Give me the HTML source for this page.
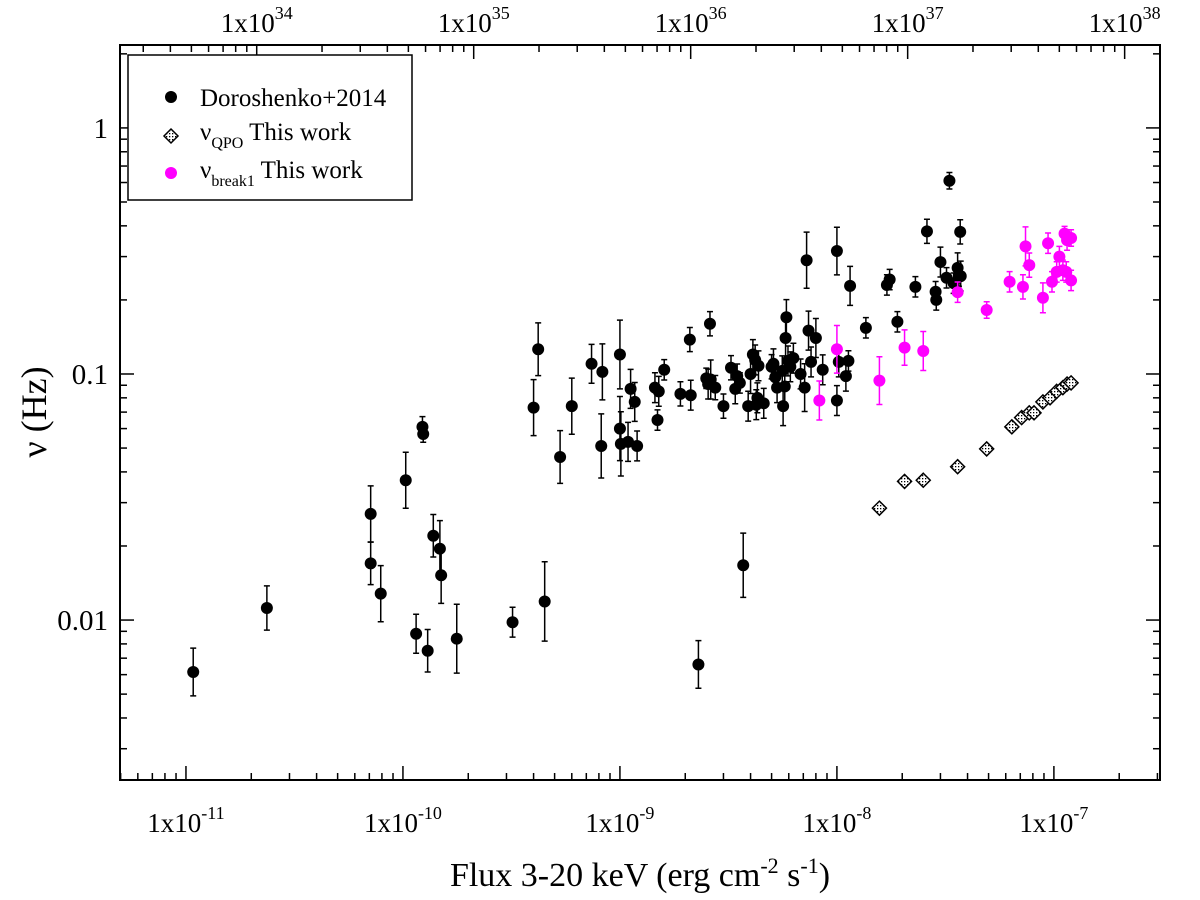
<!DOCTYPE html>
<html><head><meta charset="utf-8"><style>
body{margin:0;background:#fff;}
svg{display:block;font-family:"Liberation Serif",serif;}
</style></head><body>
<svg id="chart" width="1200" height="900" viewBox="0 0 1200 900" xmlns="http://www.w3.org/2000/svg">
<defs>
<pattern id="dots" width="3" height="3" patternUnits="userSpaceOnUse"><rect width="3" height="3" fill="#fff"/><rect x="1" y="1" width="1.3" height="1.3" fill="#000"/></pattern>
</defs>
<g id="grid-layer"></g>
<g id="marks"></g>
<rect x="120" y="45" width="1040" height="735" fill="none" stroke="#000" stroke-width="2"/>
<text transform="translate(46,412) rotate(-90)" text-anchor="middle" font-size="36">ν (Hz)</text>
<text x="640" y="886" text-anchor="middle" font-size="34">Flux 3-20 keV (erg cm<tspan dy="-13" font-size="22">-2</tspan><tspan dy="13"> s</tspan><tspan dy="-13" font-size="22">-1</tspan><tspan dy="13">)</tspan></text>
<g>
<rect x="128" y="55" width="284" height="145" fill="#fff" stroke="#000" stroke-width="1.5"/>
<circle cx="171" cy="97" r="6" fill="#000"/>
<text x="200" y="106" font-size="25">Doroshenko+2014</text>
<path d="M171,129 L178,136 L171,143 L164,136 Z" fill="url(#dots)" stroke="#000" stroke-width="1.5"/>
<text x="200" y="140" font-size="25">ν<tspan dy="8" font-size="16">QPO</tspan><tspan dy="-8"> This work</tspan></text>
<circle cx="171" cy="173" r="6" fill="#f0f"/>
<text x="200" y="178" font-size="25">ν<tspan dy="8" font-size="16">break1</tspan><tspan dy="-8"> This work</tspan></text>
</g>
</svg>
<script>
const blackFlux=[1.08e-11,2.36e-11,7.1e-11,7.1e-11,7.9e-11,1.03e-10,1.15e-10,1.23e-10,1.24e-10,1.3e-10,1.38e-10,1.48e-10,1.5e-10,1.77e-10,3.2e-10,4.0e-10,4.2e-10,4.5e-10,5.3e-10,6.0e-10,7.4e-10,8.2e-10,8.3e-10,1.0e-9,1.0e-9,1.01e-9,1.09e-9,1.12e-9,1.17e-9,1.2e-9,1.45e-9,1.49e-9,1.51e-9,1.6e-9,1.9e-9,2.1e-9,2.12e-9,2.3e-9,2.5e-9,2.55e-9,2.6e-9,2.62e-9,2.75e-9,3.0e-9,3.25e-9,3.4e-9,3.47e-9,3.57e-9,3.7e-9,3.9e-9,4.0e-9,4.1e-9,4.2e-9,4.25e-9,4.3e-9,4.35e-9,4.6e-9,5.0e-9,5.1e-9,5.2e-9,5.3e-9,5.6e-9,5.65e-9,5.75e-9,5.8e-9,5.85e-9,5.95e-9,6.1e-9,6.3e-9,6.8e-9,7.1e-9,7.25e-9,7.4e-9,7.6e-9,8.0e-9,8.6e-9,1.0e-8,1.0e-8,1.02e-8,1.1e-8,1.13e-8,1.15e-8,1.36e-8,1.7e-8,1.75e-8,1.9e-8,2.3e-8,2.6e-8,2.85e-8,2.87e-8,3.0e-8,3.2e-8,3.3e-8,3.45e-8,3.6e-8,3.65e-8,3.7e-8,3.72e-8];
const blackNu=[0.00615,0.0112,0.017,0.027,0.0128,0.037,0.0088,0.061,0.057,0.0075,0.022,0.0195,0.0152,0.0084,0.0098,0.073,0.126,0.0119,0.046,0.074,0.11,0.051,0.102,0.12,0.06,0.052,0.053,0.087,0.077,0.051,0.088,0.065,0.085,0.104,0.083,0.138,0.082,0.0066,0.096,0.091,0.16,0.095,0.088,0.074,0.106,0.087,0.098,0.092,0.0167,0.074,0.1,0.12,0.114,0.075,0.08,0.108,0.076,0.107,0.11,0.097,0.088,0.103,0.074,0.089,0.14,0.17,0.113,0.107,0.116,0.1,0.088,0.29,0.15,0.112,0.14,0.104,0.316,0.078,0.112,0.098,0.113,0.228,0.154,0.23,0.242,0.163,0.226,0.38,0.216,0.2,0.285,0.246,0.61,0.234,0.27,0.25,0.378,0.25];
const blackErr=[0.25,0.23,0.22,0.3,0.3,0.3,0.2,0.1,0.08,0.22,0.22,0.3,0.3,0.38,0.15,0.3,0.28,0.45,0.28,0.3,0.2,0.35,0.3,0.38,0.35,0.35,0.2,0.2,0.2,0.15,0.15,0.1,0.15,0.1,0.12,0.12,0.15,0.25,0.1,0.15,0.12,0.2,0.12,0.12,0.12,0.15,0.12,0.1,0.35,0.15,0.2,0.15,0.15,0.15,0.15,0.15,0.15,0.12,0.15,0.12,0.15,0.15,0.2,0.2,0.25,0.18,0.15,0.15,0.15,0.15,0.25,0.3,0.2,0.15,0.2,0.15,0.25,0.15,0.15,0.15,0.1,0.2,0.1,0.1,0.1,0.1,0.1,0.12,0.1,0.1,0.15,0.1,0.08,0.1,0.15,0.1,0.12,0.15];
const breakFlux=[8.3e-9,1.0e-8,1.57e-8,2.05e-8,2.5e-8,3.6e-8,4.9e-8,6.25e-8,7.2e-8,7.4e-8,7.7e-8,8.9e-8,9.4e-8,9.8e-8,1.03e-7,1.06e-7,1.1e-7,1.12e-7,1.14e-7,1.15e-7,1.2e-7,1.2e-7];
const breakNu=[0.078,0.126,0.094,0.128,0.124,0.215,0.182,0.237,0.226,0.33,0.277,0.204,0.34,0.237,0.26,0.3,0.264,0.372,0.26,0.35,0.357,0.24];
const breakErr=[0.2,0.25,0.25,0.18,0.2,0.1,0.08,0.1,0.12,0.2,0.12,0.15,0.1,0.1,0.1,0.1,0.1,0.07,0.1,0.1,0.08,0.1];
const qpoFlux=[1.57e-8,2.05e-8,2.5e-8,3.6e-8,4.9e-8,6.4e-8,7.1e-8,7.7e-8,8.1e-8,8.9e-8,9.6e-8,1.03e-7,1.1e-7,1.15e-7,1.2e-7];
const qpoNu=[0.0285,0.0366,0.037,0.042,0.0496,0.061,0.0665,0.0695,0.0695,0.077,0.08,0.085,0.088,0.091,0.092];
const xTickExp=[-11,-10,-9,-8,-7];
const topTickExp=[34,35,36,37,38];
const yTickVals=[0.01,0.1,1];
const yTickLabels=["0.01","0.1","1"];
const lumFactor=4.72e44;

const L=120,R=1160,T=45,B=780;
const xLogMin=-11.304,xLogMax=-6.511,yLogMin=-2.650,yLogMax=0.337;
const sx=v=>L+(Math.log10(v)-xLogMin)/(xLogMax-xLogMin)*(R-L);
const sy=v=>B-(Math.log10(v)-yLogMin)/(yLogMax-yLogMin)*(B-T);
const NS="http://www.w3.org/2000/svg";
const grid=document.getElementById('grid-layer');
const marks=document.getElementById('marks');
function mk(tag,attrs,parent){const e=document.createElementNS(NS,tag);for(const k in attrs)e.setAttribute(k,attrs[k]);parent.appendChild(e);return e;}

for(let d=-12;d<=-6;d++){for(let m=1;m<10;m++){const v=m*Math.pow(10,d);const x=sx(v);if(x<L||x>R)continue;const len=m===1?14:7;
const t=mk('line',{x1:x,x2:x,y1:B,y2:B-len,stroke:'#000','stroke-width':1.5},grid);

}}
for(let d=33;d<=38;d++){for(let m=1;m<10;m++){const v=m*Math.pow(10,d)/lumFactor;const x=sx(v);if(x<L||x>R)continue;const len=m===1?14:7;
const t=mk('line',{x1:x,x2:x,y1:T,y2:T+len,stroke:'#000','stroke-width':1.5},grid);

}}
for(let d=-3;d<=0;d++){for(let m=1;m<10;m++){const v=m*Math.pow(10,d);const y=sy(v);if(y<T||y>B)continue;const len=m===1?14:7;
const t=mk('line',{x1:L,x2:L+len,y1:y,y2:y,stroke:'#000','stroke-width':1.5},grid);


const t2=mk('line',{x1:R,x2:R-len,y1:y,y2:y,stroke:'#000','stroke-width':1.5},grid);

}}
xTickExp.forEach(e=>{const x=sx(Math.pow(10,e));
const t=mk('text',{x:x,y:832,'text-anchor':'middle','font-size':27},grid);


t.innerHTML='1x10<tspan dy="-13" font-size="18">'+e+'</tspan>';});
topTickExp.forEach(e=>{const x=sx(Math.pow(10,e)/lumFactor);
const t=mk('text',{x:x,y:32,'text-anchor':'middle','font-size':27},grid);


t.innerHTML='1x10<tspan dy="-13" font-size="18">'+e+'</tspan>';});
yTickVals.forEach((v,i)=>{const t=mk('text',{x:108,y:sy(v)+10,'text-anchor':'end','font-size':29},grid);


t.textContent=yTickLabels[i];});

function errbar(x,v,f,color){const y1=sy(v*(1+f)),y2=sy(v/(1+f));
const e=mk('path',{d:`M${x},${y1}V${y2}M${x-3},${y1}H${x+3}M${x-3},${y2}H${x+3}`,stroke:color,'stroke-width':1.5,fill:'none'},marks);

}
blackFlux.forEach((f,i)=>{const x=sx(f);errbar(x,blackNu[i],blackErr[i],'#000');
const c=mk('circle',{cx:x,cy:sy(blackNu[i]),r:6,fill:'#000'},marks);

});
breakFlux.forEach((f,i)=>{const x=sx(f);errbar(x,breakNu[i],breakErr[i],'#f0f');
const c=mk('circle',{cx:x,cy:sy(breakNu[i]),r:6,fill:'#f0f'},marks);

});
qpoFlux.forEach((f,i)=>{const x=sx(f),y=sy(qpoNu[i]);
const c=mk('path',{d:`M${x},${y-7}L${x+7},${y}L${x},${y+7}L${x-7},${y}Z`,fill:'url(#dots)',stroke:'#000','stroke-width':1.5},marks);

});
</script>
</body></html>
